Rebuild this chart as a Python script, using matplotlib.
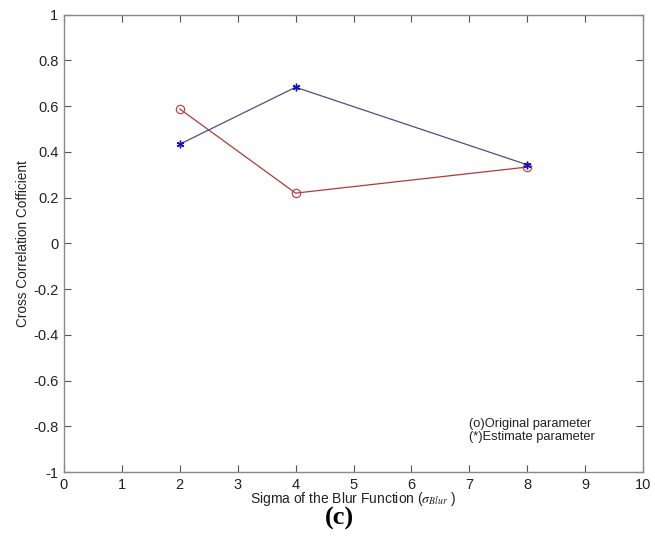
import matplotlib
matplotlib.use('Agg')
import matplotlib.pyplot as plt

plt.rcParams['font.family'] = ['Liberation Sans', 'DejaVu Sans']
plt.rcParams['mathtext.fontset'] = 'stix'

# data
sigma = [2, 4, 8]
original = [0.588, 0.22, 0.334]
estimate = [0.434, 0.683, 0.344]

fig = plt.figure(figsize=(6.55, 5.47), dpi=100)
ax = fig.add_axes([0.0977, 0.137, 0.884, 0.836])

ax.plot(sigma, original, color='#b03a3a', lw=0.9, marker='o', ms=6,
        mfc='none', mec='#c04848', mew=0.9)
ax.plot(sigma, estimate, color='#4a5088', lw=0.9, marker=(6, 2, 0), ms=5.5,
        mfc='#1010c0', mec='#1010c0', mew=1.0)

ax.set_xlim(0, 10)
ax.set_ylim(-1, 1)
ax.set_xticks(range(0, 11))
ax.set_yticks([-1, -0.8, -0.6, -0.4, -0.2, 0, 0.2, 0.4, 0.6, 0.8, 1])
ax.set_yticklabels(['-1', '-0.8', '-0.6', '-0.4', '-0.2', '0', '0.2', '0.4', '0.6', '0.8', '1'])
ax.tick_params(direction='in', top=True, right=True, length=5, width=0.8,
               colors='#555555', labelcolor='#222222', labelsize=10.5, pad=4)
for s in ax.spines.values():
    s.set_color('#888888')
    s.set_linewidth(1.0)

ax.text(7.0, -0.875, '(o)Original parameter\n(*)Estimate parameter',
        fontsize=9.3, color='#222222', va='bottom', ha='left', linespacing=1.15)

ax.set_xlabel(r'Sigma of the Blur Function ($\sigma_{\mathit{Blur}}$ )',
              fontsize=10, color='#222222', labelpad=-1)
ax.set_ylabel('Cross Correlation Cofficient', fontsize=9.8, color='#222222', labelpad=2)

fig.text(0.518, 0.053, '(c)', family='Liberation Serif', weight='bold',
         fontsize=19, ha='center', va='center')

fig.savefig('out.png', dpi=100)
